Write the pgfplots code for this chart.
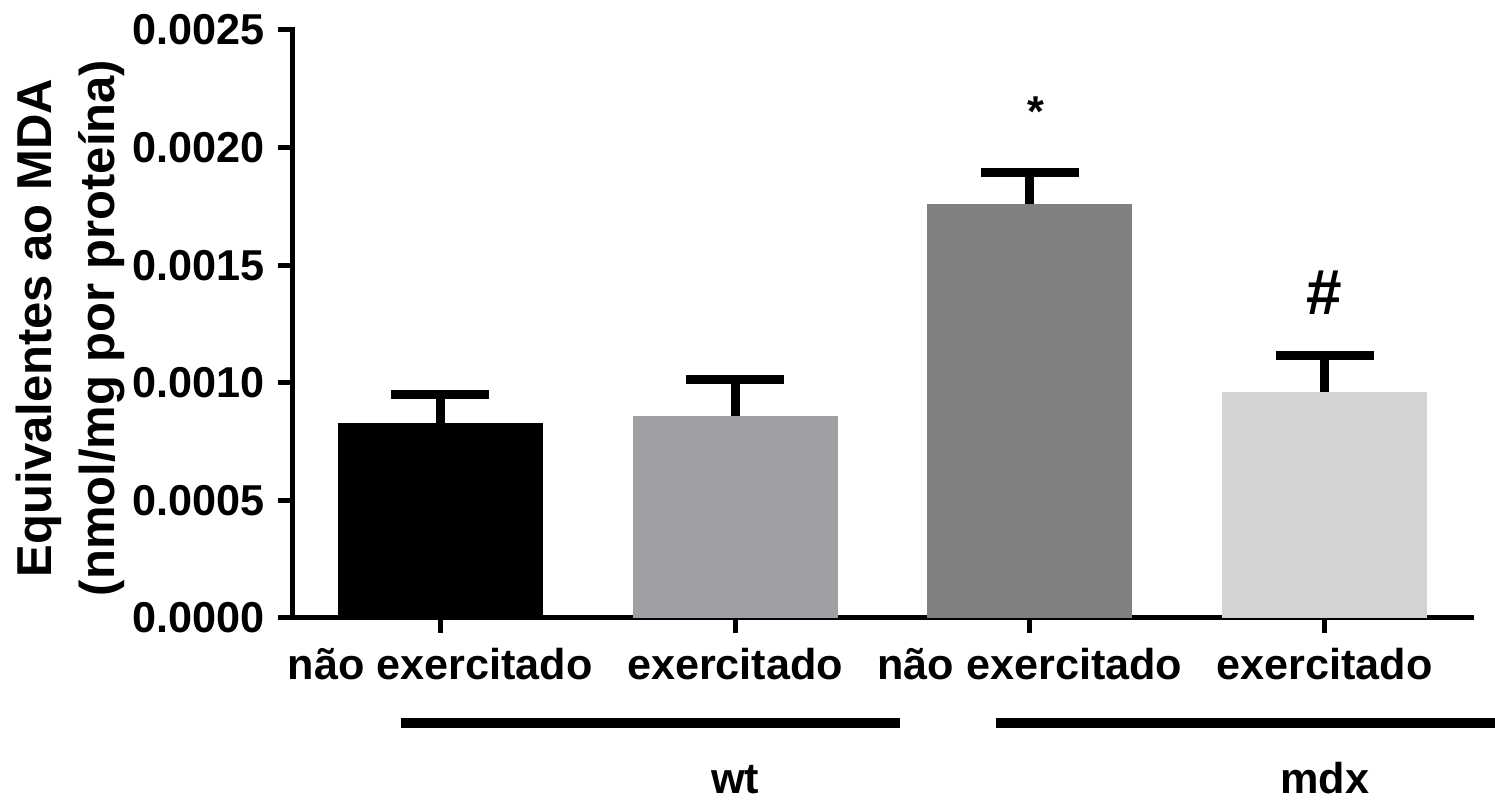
\documentclass[border=0pt]{standalone}
\usepackage{fontspec}
\setmainfont{Liberation Sans}
\usepackage{pgfplots}
\pgfplotsset{compat=1.18}
\definecolor{barA}{RGB}{0,0,0}
\definecolor{barB}{RGB}{159,159,164}
\definecolor{barC}{RGB}{128,128,128}
\definecolor{barD}{RGB}{211,211,211}
\begin{document}
\begin{tikzpicture}
\begin{axis}[
  at={(0,0)}, anchor=south west,
  scale only axis, width=589.5pt, height=294pt,
  xmin=-0.5, xmax=3.5, ymin=0, ymax=0.0025,
  axis x line*=bottom, axis y line*=left,
  axis line style={line width=2.5pt, line cap=rect},
  tick style={line width=2.5pt, black},
  tick align=outside,
  major tick length=7.5pt,
  xtick={0,1,2,3},
  xticklabels={não exercitado, exercitado, não exercitado, exercitado},
  x tick label style={anchor=base, inner sep=0pt, yshift=-23.5pt},
  ytick={0,0.0005,0.001,0.0015,0.002,0.0025},
  yticklabels={0.0000,0.0005,0.0010,0.0015,0.0020,0.0025},
  y tick label style={anchor=east, inner sep=0pt, xshift=-6.5pt},
  ticklabel style={font=\fontsize{21.6}{26}\selectfont\bfseries},
  scaled y ticks=false,
  clip=false,
  ybar=0pt, bar width=0.695,
  error bars/y dir=plus, error bars/y explicit,
  error bars/error bar style={line width=4.5pt, black},
  error bars/error mark options={rotate=90, line width=4.5pt, mark size=24.5pt, black},
]
\addplot[bar shift=0pt, fill=barA, draw=none] coordinates {(0,0.000829) +- (0,0.000123)};
\addplot[bar shift=0pt, fill=barB, draw=none] coordinates {(1,0.000859) +- (0,0.000157)};
\addplot[bar shift=0pt, fill=barC, draw=none] coordinates {(2,0.001760) +- (0,0.000136)};
\addplot[bar shift=0pt, fill=barD, draw=none] coordinates {(3,0.000961) +- (0,0.000153)};
% short extension of x axis to the left of the y axis
\draw[line width=2.5pt] (axis cs:-0.5,0) -- ([xshift=-7pt]axis cs:-0.5,0);
% significance marks
\node[anchor=base, font=\fontsize{21.6}{26}\selectfont\bfseries] at (axis cs:2.02,0.00209) {*};
\node[anchor=base, font=\fontsize{32}{36}\selectfont\bfseries] at (axis cs:3.0,0.00129) {\#};
% group lines and labels
\draw[line width=5pt] (axis cs:-0.1325,-0.000446) -- (axis cs:1.56,-0.000446);
\draw[line width=5pt] (axis cs:1.886,-0.000446) -- (axis cs:3.6,-0.000446);
\node[anchor=base, font=\fontsize{21.6}{26}\selectfont\bfseries] at (axis cs:1.0,-0.000745) {wt};
\node[anchor=base, font=\fontsize{21.6}{26}\selectfont\bfseries] at (axis cs:3.0,-0.000745) {mdx};
% y label
\node[rotate=90, anchor=south, align=center, inner sep=0pt,
      font=\fontsize{24.5}{31.5}\selectfont\bfseries]
  at ([xshift=-84pt, yshift=-2pt]rel axis cs:0,0.5) {Equivalentes ao MDA\\(nmol/mg por proteína)};
\end{axis}
\pgfresetboundingbox
\path (-146.5pt,-94.5pt) rectangle (601pt,309pt);
\end{tikzpicture}
\end{document}
